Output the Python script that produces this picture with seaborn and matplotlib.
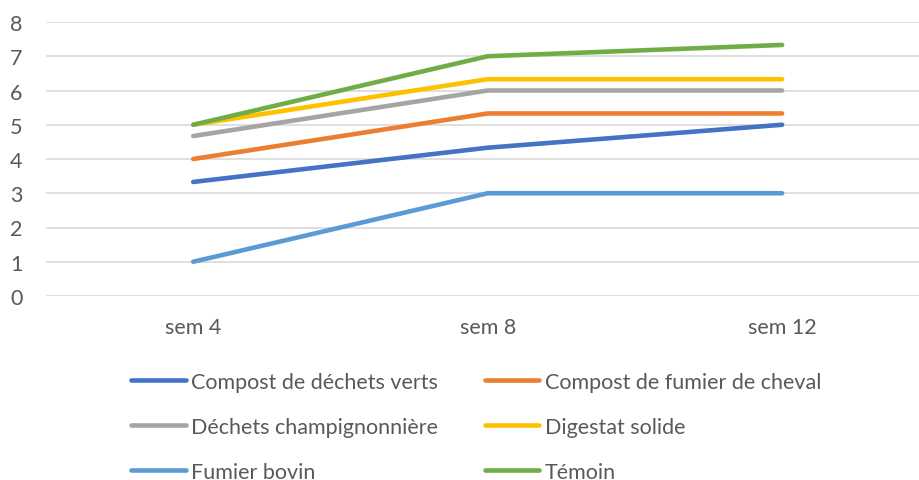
import pandas as pd
import numpy as np
import matplotlib
matplotlib.use('Agg')
import matplotlib.pyplot as plt
import seaborn as sns

weeks = ['sem 4', 'sem 8', 'sem 12']
series_names = ['Compost de déchets verts', 'Compost de fumier de cheval',
                'Déchets champignonnière', 'Digestat solide',
                'Fumier bovin', 'Témoin']
compost_verts = [3.33, 4.33, 5.0]
compost_cheval = [4.0, 5.33, 5.33]
dechets_champi = [4.67, 6.0, 6.0]
digestat = [5.0, 6.33, 6.33]
fumier_bovin = [1.0, 3.0, 3.0]
temoin = [5.0, 7.0, 7.33]
colors = ['#4472C4', '#ED7D31', '#A5A5A5', '#FFC000', '#5B9BD5', '#70AD47']

values = [compost_verts, compost_cheval, dechets_champi, digestat, fumier_bovin, temoin]
rows = []
for name, vals in zip(series_names, values):
    for i, v in enumerate(vals):
        rows.append({'x': i, 'week': weeks[i], 'serie': name, 'val': v})
df = pd.DataFrame(rows)

sns.set_style('white')
plt.rcParams['font.family'] = ['Lato', 'DejaVu Sans']

fig = plt.figure(figsize=(9.19, 4.81), dpi=100)
ax = fig.add_axes([46/919, 1-297/481, (919-46)/919, 274/481])

sns.lineplot(data=df, x='x', y='val', hue='serie', hue_order=series_names,
             palette=colors, linewidth=3.3, ax=ax, legend=False,
             solid_capstyle='round')

ax.set_xlim(-0.5, 2.465)
ax.set_ylim(0, 8)
ax.set_yticks(range(0, 9))
ax.yaxis.grid(True, color='#D9D9D9', linewidth=1.2)
ax.set_axisbelow(True)
ax.set_xticks(range(3))
ax.set_xticklabels(weeks)
ax.tick_params(axis='both', length=0, labelsize=15.5, colors='#595959')
ax.tick_params(axis='x', pad=15)
ax.tick_params(axis='y', pad=17)
ax.set_xlabel('')
ax.set_ylabel('')
for s in ax.spines.values():
    s.set_visible(False)

# legend filled row by row, like the original
order = [0, 2, 4, 1, 3, 5]
handles = [plt.Line2D([], [], color=colors[i], linewidth=3.3, solid_capstyle='round') for i in order]
labels = [series_names[i] for i in order]
leg = fig.legend(handles, labels, ncol=2, loc='upper left',
                 bbox_to_anchor=(131/919, 1-373/481), frameon=False,
                 borderpad=0, borderaxespad=0,
                 fontsize=15.5, handlelength=2.55, handletextpad=0.25,
                 columnspacing=2.15, labelspacing=1.15)
for t in leg.get_texts():
    t.set_color('#595959')

fig.savefig('out.png', dpi=100)
